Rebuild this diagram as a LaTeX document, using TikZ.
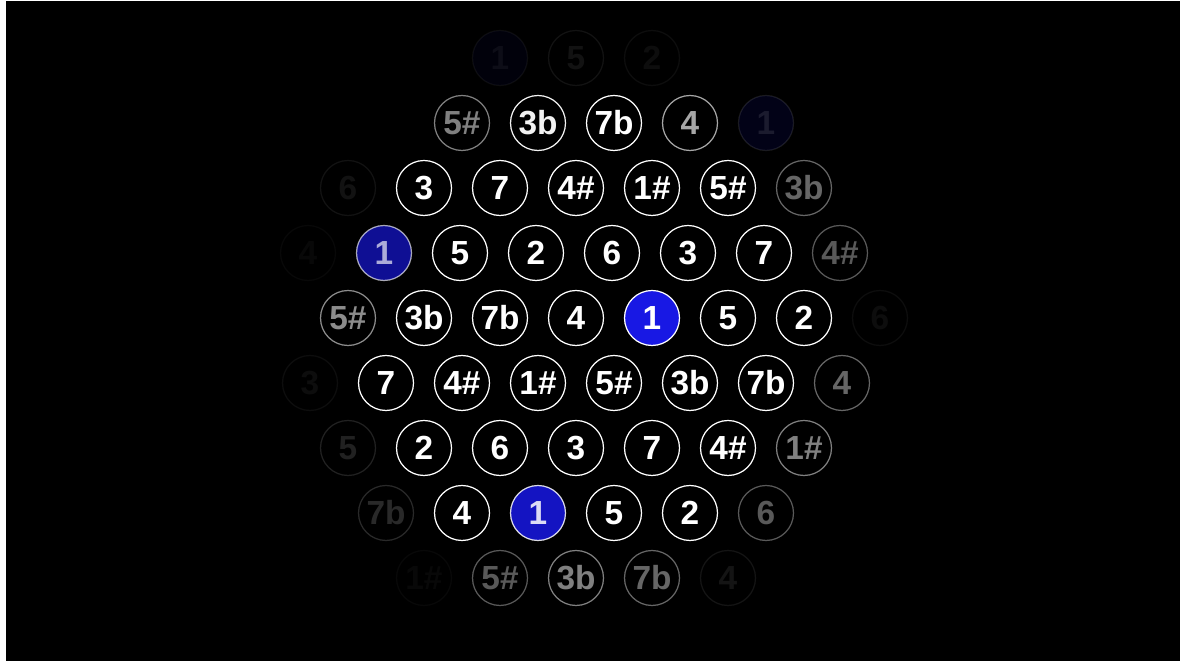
\documentclass[tikz,border=0pt]{standalone}
\usepackage{fontspec}
\setmainfont{Liberation Sans}
\usepackage{tikz}
\definecolor{tonic}{RGB}{24,24,228}

\begin{document}
\begin{tikzpicture}[x=0.02cm,y=-0.02cm,font=\fontsize{19}{22}\selectfont\bfseries,
note/.style={circle,draw=white,text=white,line width=0.7pt,minimum size=1.1cm,inner sep=0pt}]
\useasboundingbox (0,0) rectangle (1180,661);
\fill[white] (0,0) rectangle (1180,661);
\fill[black] (6,1.5) rectangle (1180,661);
% rows of the note grid: y, first x, then label/opacity/fill
\foreach \yy/\xx/\notes [count=\r] in {
58/500/{1/.05/tonic,5/.07/black,2/.05/black},
123/462/{5\#/.5/black,3b/.95/black,7b/1/black,4/.65/black,1/.1/tonic},
188/348/{6/.07/black,3/1/black,7/1/black,4\#/1/black,1\#/1/black,5\#/1/black,3b/.4/black},
253/308/{4/.03/black,1/.65/tonic,5/1/black,2/1/black,6/1/black,3/1/black,7/1/black,4\#/.35/black},
318/348/{5\#/.55/black,3b/1/black,7b/1/black,4/1/black,1/1/tonic,5/1/black,2/1/black,6/.05/black},
383/310/{3/.05/black,7/1/black,4\#/1/black,1\#/1/black,5\#/1/black,3b/1/black,7b/1/black,4/.4/black},
448/348/{5/.13/black,2/1/black,6/1/black,3/1/black,7/1/black,4\#/1/black,1\#/.5/black},
513/386/{7b/.16/black,4/1/black,1/.85/tonic,5/1/black,2/1/black,6/.35/black},
578/424/{1\#/.03/black,5\#/.35/black,3b/.5/black,7b/.4/black,4/.08/black}}
  \foreach \lbl/\op/\fl [count=\i from 0] in \notes
    \node[note,fill=\fl,opacity=\op] (k\r-\i) at ({\xx+76*\i},\yy) {\lbl};
\end{tikzpicture}
\end{document}
